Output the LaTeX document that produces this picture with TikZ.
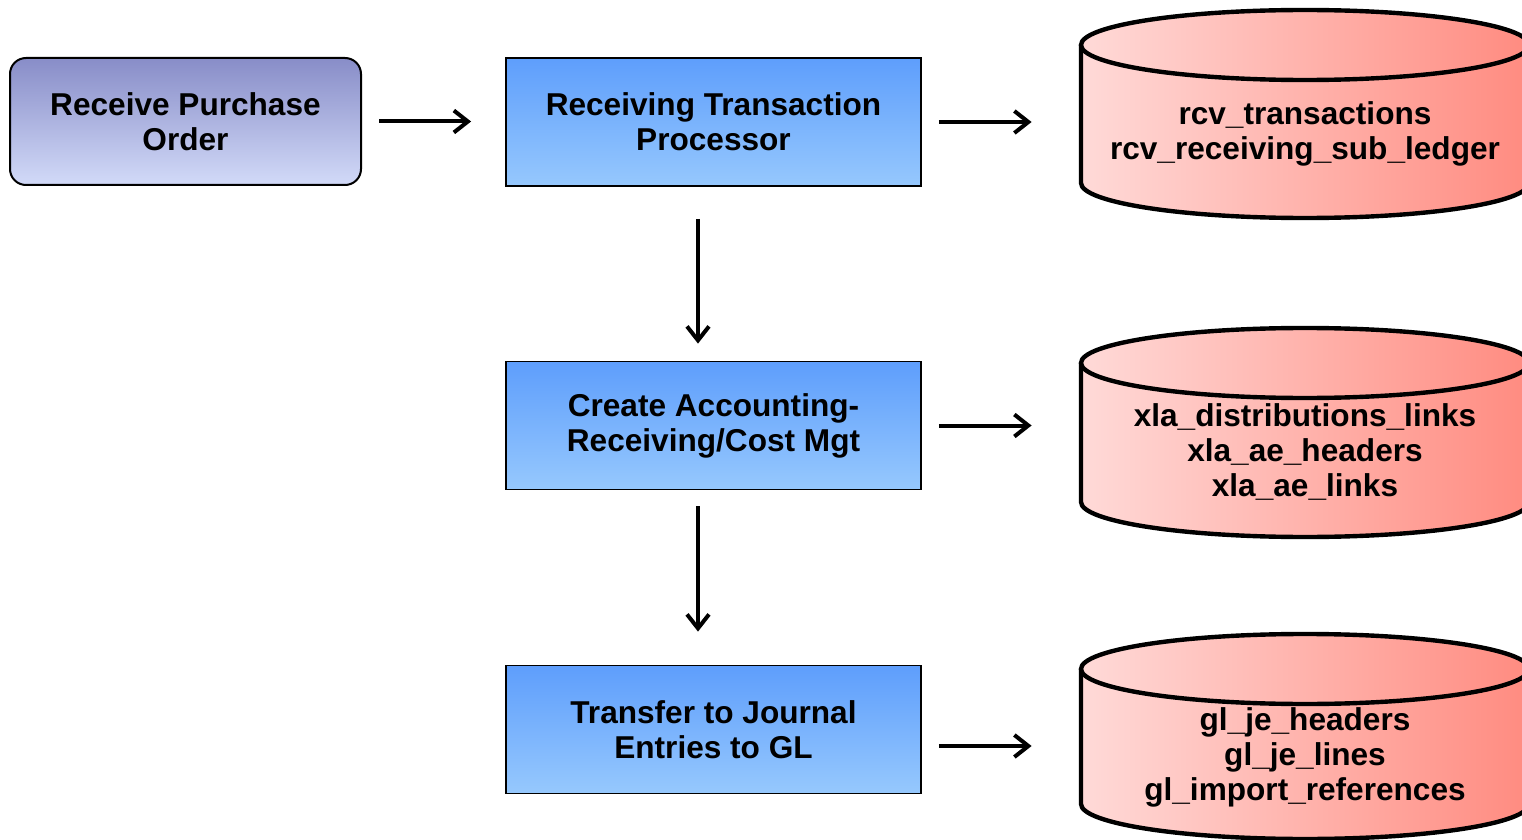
\documentclass[tikz,border=0pt]{standalone}
\usepackage{fontspec}
\setmainfont{Liberation Sans}
\usetikzlibrary{arrows.meta}

\definecolor{startTop}{RGB}{136,141,200}
\definecolor{startBot}{RGB}{210,218,248}
\definecolor{procTop}{RGB}{94,158,252}
\definecolor{procBot}{RGB}{150,200,253}
\definecolor{dbLeft}{RGB}{255,218,216}
\definecolor{dbRight}{RGB}{255,139,128}

% database cylinder: centre x, centre y of top ellipse, centre y of bottom ellipse
\newcommand\dbcylinder[3]{%
  \shade[dbfill] (#1-224,#2) -- (#1-224,#3)
    arc[start angle=180,end angle=0,x radius=224,y radius=35]
    -- (#1+224,#2)
    arc[start angle=0,end angle=180,x radius=224,y radius=35] -- cycle;
  \shade[dbfill] (#1,#2) ellipse[x radius=224,y radius=35];
  \draw[dbline] (#1-224,#2) -- (#1-224,#3)
    arc[start angle=180,end angle=0,x radius=224,y radius=35]
    -- (#1+224,#2);
  \draw[dbline] (#1,#2) ellipse[x radius=224,y radius=35];
}

\begin{document}
\begin{tikzpicture}[x=0.5pt,y=-0.5pt,
  lbl/.style={font=\bfseries\fontsize{15.8}{17.5}\selectfont,align=center,inner sep=0pt},
  startbox/.style={lbl,draw=black,line width=1pt,rounded corners=8pt,
    top color=startTop,bottom color=startBot,
    minimum width=175.5pt,minimum height=63.5pt},
  procbox/.style={lbl,draw=black,line width=0.9pt,
    top color=procTop,bottom color=procBot,
    minimum width=207.5pt,minimum height=64pt},
  dbtext/.style={lbl,minimum width=224pt},
  dbfill/.style={left color=dbLeft,right color=dbRight},
  dbline/.style={draw=black,line width=2.2pt},
  flow/.style={-{Straight Barb[length=7pt,width=11pt]},line width=2pt}]

\useasboundingbox (0,0) rectangle (1522,840);
\clip (0,0) rectangle (1522,840);

% data stores
\dbcylinder{1305}{45}{183}
\dbcylinder{1305}{363}{502}
\dbcylinder{1305}{669}{804}

\node[dbtext] (c1) at (1305,133.5) {rcv\_transactions\\rcv\_receiving\_sub\_ledger};
\node[dbtext] (c2) at (1305,452) {xla\_distributions\_links\\xla\_ae\_headers\\xla\_ae\_links};
\node[dbtext] (c3) at (1305,757.5) {gl\_je\_headers\\gl\_je\_lines\\gl\_import\_references};

% process steps
\node[startbox] (po) at (185.5,121.5) {Receive Purchase\\Order};
\node[procbox] (b1) at (713.5,122) {Receiving Transaction\\Processor};
\node[procbox] (b2) at (713.5,425.5) {Create Accounting-\\Receiving/Cost Mgt};
\node[procbox] (b3) at (713.5,729.5) {Transfer to Journal\\Entries to GL};

% flow arrows
\draw[flow,shorten <=8.5pt,shorten >=17pt] (po.east) -- (po.east -| b1.west);
\draw[flow,shorten <=8.5pt,shorten >=24.5pt] (b1.east) -- (b1.east -| c1.west);
\draw[flow,shorten <=8.5pt,shorten >=24.5pt] (b2.east) -- (b2.east -| c2.west);
\draw[flow,shorten <=8.5pt,shorten >=24.5pt] ([yshift=-8.25pt]b3.east) -- ([yshift=-8.25pt]b3.east -| c3.west);
\draw[flow,shorten <=16pt,shorten >=8.5pt] ([xshift=-7.75pt]b1.south) -- ([xshift=-7.75pt]b2.north);
\draw[flow,shorten <=8pt,shorten >=16.5pt] ([xshift=-7.75pt]b2.south) -- ([xshift=-7.75pt]b3.north);
\end{tikzpicture}
\end{document}
